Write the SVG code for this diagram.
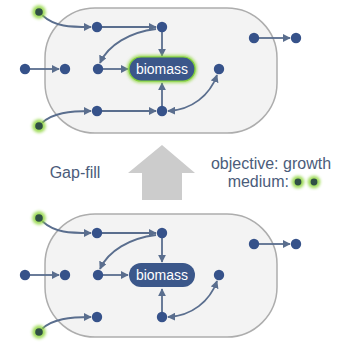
<svg xmlns="http://www.w3.org/2000/svg" width="339" height="343" viewBox="0 0 339 343">
<defs>
<style>
.cell{fill:#f3f3f3;stroke:#adadad;stroke-width:1.5}
.n{fill:#36528a}
.e{fill:none;stroke:#5a6e8e;stroke-width:1.8}
.glow{fill:#8fd63c;opacity:0.85}
.gn{fill:#2f4f45}
.lbl{font-family:"Liberation Sans",Arial,sans-serif;font-size:16px;fill:#4b5c7a}
.bt{font-family:"Liberation Sans",Arial,sans-serif;font-size:14px;fill:#ffffff}
</style>
<filter id="blur" x="-1" y="-1" width="3" height="3"><feGaussianBlur stdDeviation="1.7"/></filter>
<marker id="ah" viewBox="0 0 10 10" refX="9" refY="5" markerWidth="8" markerHeight="8" markerUnits="userSpaceOnUse" orient="auto-start-reverse">
<path d="M0,0 L10,5 L0,10 z" fill="#5a6e8e"/>
</marker>
</defs>

<rect class="cell" x="45" y="8" width="232" height="125" rx="50"/>
<rect class="cell" x="45" y="214" width="232" height="123" rx="50"/>

<polygon id="gapfill-arrow" points="162,145 195,173 182,173 182,200 142,200 142,173 128,173" fill="#cccccc"/>
<text class="lbl" x="75" y="178" text-anchor="middle">Gap-fill</text>
<text class="lbl" x="271" y="169" text-anchor="middle">objective: growth</text>
<text class="lbl" x="289" y="187" text-anchor="end">medium:</text>
<g id="medium-dots">
<circle class="glow" cx="298" cy="182" r="6.3" filter="url(#blur)"/>
<circle class="gn" cx="298" cy="182" r="3.4"/>
<circle class="glow" cx="314" cy="182" r="6.3" filter="url(#blur)"/>
<circle class="gn" cx="314" cy="182" r="3.4"/>
</g>

<g id="connectors">
<path class="e" d="M42,15 C55,27 70,27 91,27" marker-end="url(#ah)"/>
<path class="e" d="M102,27 L156,27" marker-end="url(#ah)"/>
<path class="e" d="M162,32 L162,56" marker-end="url(#ah)"/>
<path class="e" d="M156,29 C130,32 108,45 100,63" marker-end="url(#ah)"/>
<path class="e" d="M30,69 L59,69" marker-end="url(#ah)"/>
<path class="e" d="M103,69 L128,69" marker-end="url(#ah)"/>
<path class="e" d="M42,123 C52,113 70,111 91,111" marker-end="url(#ah)"/>
<path class="e" d="M102,111 L156,111" marker-end="url(#ah)"/>
<path class="e" d="M162,106 L162,83" marker-end="url(#ah)"/>
<path class="e" d="M168,111 C192,110 210,95 217,75" marker-start="url(#ah)" marker-end="url(#ah)"/>
<path class="e" d="M259,38 L290,38" marker-end="url(#ah)"/>

<path class="e" d="M42,221 C55,233 70,233 91,233" marker-end="url(#ah)"/>
<path class="e" d="M102,233 L156,233" marker-end="url(#ah)"/>
<path class="e" d="M162,238 L162,262" marker-end="url(#ah)"/>
<path class="e" d="M156,235 C130,238 108,251 100,269" marker-end="url(#ah)"/>
<path class="e" d="M30,275 L59,275" marker-end="url(#ah)"/>
<path class="e" d="M103,275 L128,275" marker-end="url(#ah)"/>
<path class="e" d="M42,329 C52,319 70,317 91,317" marker-end="url(#ah)"/>
<path class="e" d="M162,312 L162,289" marker-end="url(#ah)"/>
<path class="e" d="M168,317 C192,316 210,301 217,281" marker-start="url(#ah)" marker-end="url(#ah)"/>
<path class="e" d="M259,244 L290,244" marker-end="url(#ah)"/>
</g>

<g id="top-in1"><circle class="glow" cx="39" cy="12" r="6.8" filter="url(#blur)"/><circle class="gn" cx="39" cy="12" r="3.8"/></g>
<g id="top-in2"><circle class="glow" cx="39" cy="126" r="6.8" filter="url(#blur)"/><circle class="gn" cx="39" cy="126" r="3.8"/></g>
<g id="top-a"><circle class="n" cx="97" cy="27" r="5.2"/></g>
<g id="top-b"><circle class="n" cx="162" cy="27" r="5.2"/></g>
<g id="top-o1"><circle class="n" cx="25" cy="69" r="5.2"/></g>
<g id="top-o2"><circle class="n" cx="65" cy="69" r="5.2"/></g>
<g id="top-c"><circle class="n" cx="98" cy="69" r="5.2"/></g>
<g id="top-d"><circle class="n" cx="219" cy="69" r="5.2"/></g>
<g id="top-e"><circle class="n" cx="97" cy="111" r="5.2"/></g>
<g id="top-f"><circle class="n" cx="162" cy="111" r="5.2"/></g>
<g id="top-x1"><circle class="n" cx="254" cy="38" r="5.2"/></g>
<g id="top-x2"><circle class="n" cx="296" cy="38" r="5.2"/></g>
<g id="top-biomass">
<rect x="127" y="55" width="70" height="28" rx="14" fill="#8fd63c" opacity="0.8" filter="url(#blur)"/>
<rect x="129" y="57" width="66" height="24" rx="12" fill="#3b578a" stroke="#7fcf3a" stroke-width="1.2"/>
<text class="bt" x="162" y="74" text-anchor="middle">biomass</text>
</g>

<g id="bot-in1"><circle class="glow" cx="39" cy="218" r="6.8" filter="url(#blur)"/><circle class="gn" cx="39" cy="218" r="3.8"/></g>
<g id="bot-in2"><circle class="glow" cx="39" cy="332" r="6.8" filter="url(#blur)"/><circle class="gn" cx="39" cy="332" r="3.8"/></g>
<g id="bot-a"><circle class="n" cx="97" cy="233" r="5.2"/></g>
<g id="bot-b"><circle class="n" cx="162" cy="233" r="5.2"/></g>
<g id="bot-o1"><circle class="n" cx="25" cy="275" r="5.2"/></g>
<g id="bot-o2"><circle class="n" cx="65" cy="275" r="5.2"/></g>
<g id="bot-c"><circle class="n" cx="98" cy="275" r="5.2"/></g>
<g id="bot-d"><circle class="n" cx="219" cy="275" r="5.2"/></g>
<g id="bot-e"><circle class="n" cx="97" cy="317" r="5.2"/></g>
<g id="bot-f"><circle class="n" cx="162" cy="317" r="5.2"/></g>
<g id="bot-x1"><circle class="n" cx="254" cy="244" r="5.2"/></g>
<g id="bot-x2"><circle class="n" cx="296" cy="244" r="5.2"/></g>
<g id="bot-biomass">
<rect x="129" y="263" width="66" height="24" rx="12" fill="#3b578a"/>
<text class="bt" x="162" y="280" text-anchor="middle">biomass</text>
</g>
</svg>
